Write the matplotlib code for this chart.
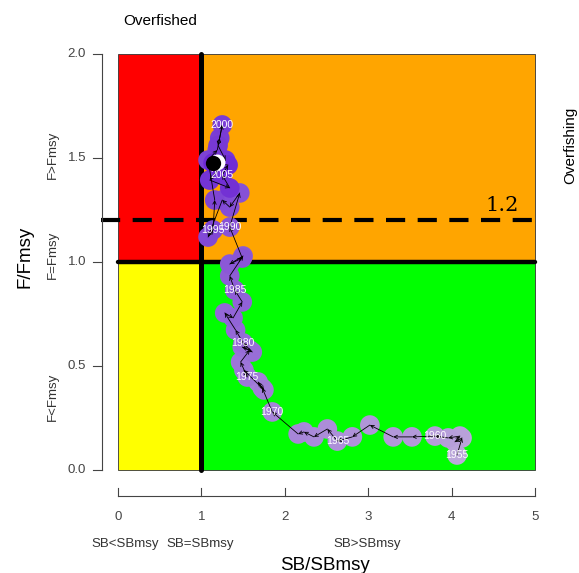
import numpy as np
import matplotlib
matplotlib.use("Agg")
import matplotlib.pyplot as plt
from matplotlib.patches import Rectangle
from matplotlib.colors import to_rgb
import matplotlib.transforms as mtransforms

plt.rcParams['font.family'] = ['Liberation Sans', 'DejaVu Sans']

# ---------------- data ----------------
years = list(range(1955, 2008))
sb_ratio = [4.065, 4.125, 4.04, 4.10, 3.96, 3.80, 3.525, 3.30, 3.02, 2.81,
            2.63, 2.51, 2.35, 2.23, 2.16, 1.85, 1.73, 1.68, 1.75, 1.51,
            1.55, 1.47, 1.58, 1.49, 1.61, 1.50, 1.41, 1.28, 1.38, 1.49,
            1.40, 1.34, 1.50, 1.34, 1.49, 1.34, 1.46, 1.34, 1.25, 1.08,
            1.14, 1.16, 1.08, 1.19, 1.22, 1.25, 1.20, 1.29, 1.10, 1.34,
            1.25, 1.32, 1.14]
f_ratio = [0.072, 0.154, 0.135, 0.163, 0.154, 0.163, 0.159, 0.159, 0.216, 0.159,
           0.139, 0.197, 0.159, 0.183, 0.173, 0.279, 0.394, 0.423, 0.385, 0.48,
           0.447, 0.519, 0.577, 0.591, 0.567, 0.611, 0.673, 0.755, 0.731, 0.808,
           0.865, 0.933, 1.029, 0.99, 1.019, 1.168, 1.332, 1.264, 1.298, 1.12,
           1.154, 1.298, 1.49, 1.538, 1.596, 1.659, 1.56, 1.49, 1.394, 1.356,
           1.418, 1.466, 1.476]
label_years = [1955, 1960, 1965, 1970, 1975, 1980, 1985, 1990, 1995, 2000, 2005]
x_ticks = [0, 1, 2, 3, 4, 5]
y_ticks = [0.0, 0.5, 1.0, 1.5, 2.0]
y_tick_labels = ["0.0", "0.5", "1.0", "1.5", "2.0"]
f_target = 1.2

# ---------------- figure ----------------
W, H = 579, 573
fig = plt.figure(figsize=(W / 100, H / 100), dpi=100)
ax = fig.add_axes([101.3 / W, (H - 486.6) / H, 450.4 / W, 449.2 / H])
ax.set_xlim(-0.2, 5.2)
ax.set_ylim(-0.08, 2.08)
ax.axis('off')


def px(xp, yp):
    return ((xp - 118) / 83.4, (470 - yp) / 208)


# quadrants
ax.add_patch(Rectangle((0, 1), 1, 1, facecolor='#FF0000', edgecolor='#333333', lw=0.6, zorder=1))
ax.add_patch(Rectangle((1, 1), 4, 1, facecolor='#FFA500', edgecolor='#333333', lw=0.6, zorder=1))
ax.add_patch(Rectangle((0, 0), 1, 1, facecolor='#FFFF00', edgecolor='#333333', lw=0.6, zorder=1))
ax.add_patch(Rectangle((1, 0), 4, 1, facecolor='#00FF00', edgecolor='#333333', lw=0.6, zorder=1))

# reference lines
ax.plot([1, 1], [0, 2], color='black', lw=3.6, zorder=2, solid_capstyle='round')
ax.plot([0, 5], [1, 1], color='black', lw=3.2, zorder=2, solid_capstyle='round')
ax.plot([-0.2, 5.0], [f_target, f_target], color='black', lw=3.0, zorder=2,
        dashes=(4.6, 3.0))
tx, ty = px(502, 205)
ax.text(tx, ty, "1.2", family='DejaVu Serif', fontsize=15, ha='center', va='center', zorder=6)

# trajectory colours
c0 = np.array(to_rgb('#BCA8DA'))
c1 = np.array(to_rgb('#6E2AD4'))
n = len(years)
cols = [tuple(c0 + (c1 - c0) * i / (n - 1)) for i in range(n)]

ax.scatter(sb_ratio, f_ratio, s=200, c=cols, edgecolors='none', zorder=3)

for i in range(n - 1):
    ax.annotate('', xy=(sb_ratio[i + 1], f_ratio[i + 1]), xytext=(sb_ratio[i], f_ratio[i]),
                arrowprops=dict(arrowstyle='->', lw=0.6, color='black', shrinkA=0, shrinkB=0,
                                mutation_scale=6), zorder=4)

for yr, xv, yv in zip(years, sb_ratio, f_ratio):
    if yr in label_years:
        ax.text(xv, yv, str(yr), color='white', fontsize=7.5, ha='center', va='center', zorder=5)

# final point (crescent): white disc offset right, black disc on top
off = mtransforms.offset_copy(ax.transData, fig=fig, x=3.0, y=0.5, units='points')
ax.plot(sb_ratio[-1], f_ratio[-1], 'o', color='white', ms=11.5, mew=0, zorder=6, transform=off)
ax.plot(sb_ratio[-1], f_ratio[-1], 'o', color='black', ms=11, mew=0, zorder=7)

# left axis (ticks outward)
ax_col = '#444444'
lx = -0.19
ax.plot([lx, lx], [0, 2], color=ax_col, lw=0.8, clip_on=False)
for yt, lab in zip(y_ticks, y_tick_labels):
    ax.plot([lx, lx - 0.11], [yt, yt], color=ax_col, lw=0.8, clip_on=False)
    ax.text(px(86, 0)[0], yt, lab, ha='right', va='center', fontsize=9.5, color=ax_col)

# bottom axis (ticks inward)
by = px(0, 496)[1]
bt = px(0, 488)[1]
ax.plot([0, 5], [by, by], color=ax_col, lw=0.8, clip_on=False)
for xt in x_ticks:
    ax.plot([xt, xt], [by, bt], color=ax_col, lw=0.8, clip_on=False)
    ax.text(xt, px(0, 517)[1], str(xt), ha='center', va='center', fontsize=9.5, color=ax_col)

# descriptive labels
for xp, lab in [(125, "SB<SBmsy"), (200, "SB=SBmsy"), (367, "SB>SBmsy")]:
    x, y = px(xp, 544)
    ax.text(x, y, lab, ha='center', va='center', fontsize=9.5, color='#333333')
x, y = px(325, 566)
ax.text(x, y, "SB/SBmsy", ha='center', va='center', fontsize=13.5, color='black')

for yp, lab in [(155, "F>Fmsy"), (255, "F=Fmsy"), (397, "F<Fmsy")]:
    x, y = px(53, yp)
    ax.text(x, y, lab, ha='center', va='center', rotation=90, fontsize=9.5, color='#333333')
x, y = px(25, 257)
ax.text(x, y, "F/Fmsy", ha='center', va='center', rotation=90, fontsize=13.5, color='black')

x, y = px(160, 21)
ax.text(x, y, "Overfished", ha='center', va='center', fontsize=11, color='black')
x, y = px(570, 145)
ax.text(x, y, "Overfishing", ha='center', va='center', rotation=90, fontsize=11, color='black')

fig.savefig("out.png", dpi=100)
